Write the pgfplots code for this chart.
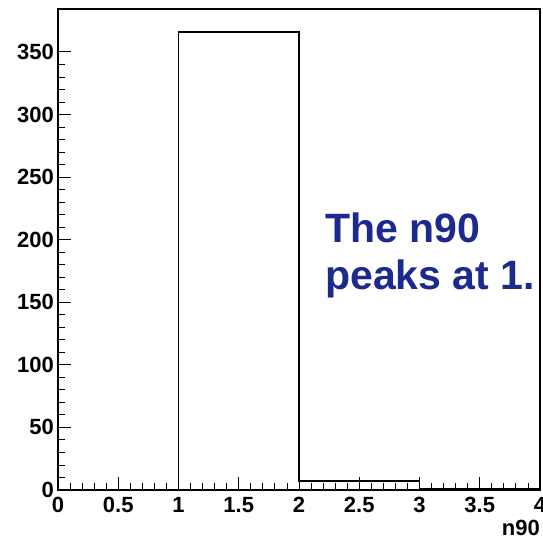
\documentclass[border=0pt]{standalone}
\usepackage{fontspec}
\setmainfont{Liberation Sans}
\usepackage{pgfplots}
\pgfplotsset{compat=1.18}
\definecolor{txtblue}{RGB}{27,42,140}
\begin{document}
\begin{tikzpicture}[x=1pt,y=1pt]
\path[use as bounding box] (0,0) rectangle (543,540);
\begin{axis}[
  at={(58pt,50pt)}, anchor=south west,
  scale only axis, width=482pt, height=481pt,
  xmin=0, xmax=4, ymin=0, ymax=384.3,
  axis line style={line width=1.1pt},
  xtick={0,0.5,...,4}, minor x tick num=4,
  ytick={0,50,...,350}, minor y tick num=4,
  xtick pos=bottom, ytick pos=left,
  tick align=inside,
  major tick length=13pt, minor tick length=6.5pt,
  tick style={line width=0.9pt, black},
  /pgf/number format/assume math mode=true,
  /pgf/number format/fixed,
  tick label style={font=\fontsize{22}{22}\selectfont\bfseries},
  xticklabel style={inner sep=0pt, yshift=-7pt},
  yticklabel style={inner sep=0pt, xshift=-4pt},
  clip=false,
]
\addplot[const plot, black, line width=1.6pt, mark=none] coordinates {
(0,0) (1,366) (2,7) (3,1) (4,1)
};
\node[anchor=base east, inner sep=0pt, font=\fontsize{22}{22}\selectfont\bfseries] at (rel axis cs:1,0) [yshift=-46pt] {n90};
\end{axis}
\node[anchor=base west, inner sep=0pt, text=txtblue, font=\fontsize{41}{41}\selectfont\bfseries] at (325,297) {The n90};
\node[anchor=base west, inner sep=0pt, text=txtblue, font=\fontsize{41}{41}\selectfont\bfseries] at (325,250) {peaks at 1.};
\end{tikzpicture}
\end{document}
